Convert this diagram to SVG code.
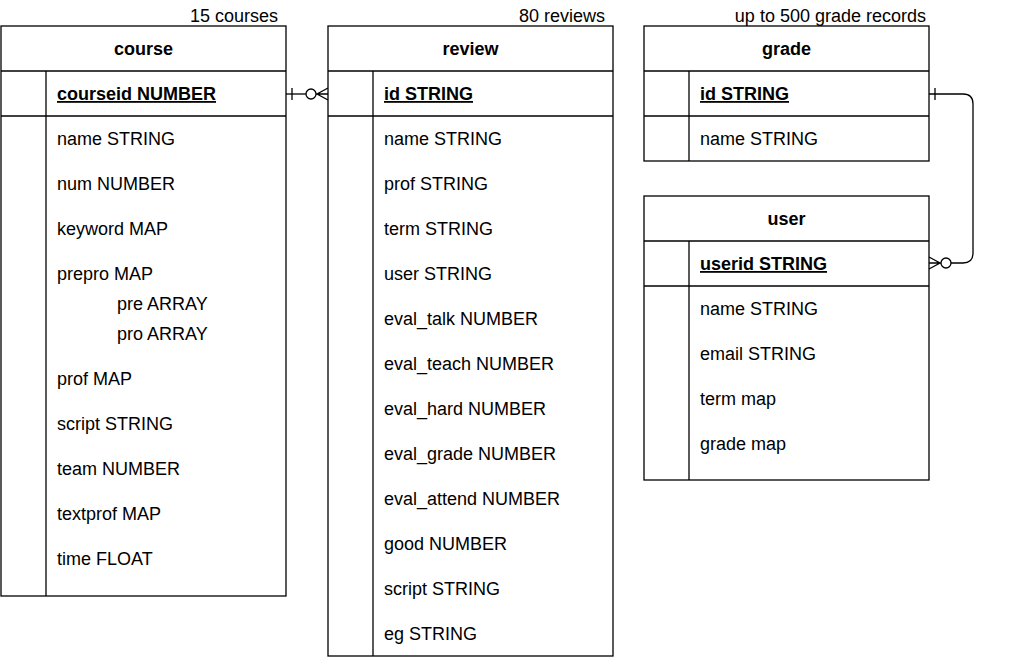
<svg xmlns="http://www.w3.org/2000/svg" width="1020" height="657" viewBox="0 0 1020 657">
<style>
.box{fill:#fff;stroke:#000;stroke-width:1.3}
.ln{stroke:#000;stroke-width:1.3;fill:none}
text{font-family:"Liberation Sans",Arial,sans-serif;font-size:18px;fill:#000}
.h{font-weight:bold;text-anchor:middle}
.k{font-weight:bold;text-decoration:underline}
.lbl{text-anchor:end}
</style>
<rect width="1020" height="657" fill="#fff"/>
<g id="course">
<rect class="box" x="1" y="26" width="285" height="570"/>
<line class="ln" x1="1" y1="71" x2="286" y2="71"/>
<line class="ln" x1="1" y1="116" x2="286" y2="116"/>
<line class="ln" x1="46" y1="71" x2="46" y2="596"/>
<text class="h" x="143.5" y="55">course</text>
<text class="k" x="57" y="100">courseid NUMBER</text>
<text x="57" y="145">name STRING</text>
<text x="57" y="190">num NUMBER</text>
<text x="57" y="235">keyword MAP</text>
<text x="57" y="280">prepro MAP</text>
<text x="117" y="310">pre ARRAY</text>
<text x="117" y="340">pro ARRAY</text>
<text x="57" y="385">prof MAP</text>
<text x="57" y="430">script STRING</text>
<text x="57" y="475">team NUMBER</text>
<text x="57" y="520">textprof MAP</text>
<text x="57" y="565">time FLOAT</text>
<text class="lbl" x="278" y="22">15 courses</text>
</g>
<g id="review">
<rect class="box" x="328" y="26" width="285" height="630"/>
<line class="ln" x1="328" y1="71" x2="613" y2="71"/>
<line class="ln" x1="328" y1="116" x2="613" y2="116"/>
<line class="ln" x1="373" y1="71" x2="373" y2="656"/>
<text class="h" x="470.5" y="55">review</text>
<text class="k" x="384" y="100">id STRING</text>
<text x="384" y="145">name STRING</text>
<text x="384" y="190">prof STRING</text>
<text x="384" y="235">term STRING</text>
<text x="384" y="280">user STRING</text>
<text x="384" y="325">eval_talk NUMBER</text>
<text x="384" y="370">eval_teach NUMBER</text>
<text x="384" y="415">eval_hard NUMBER</text>
<text x="384" y="460">eval_grade NUMBER</text>
<text x="384" y="505">eval_attend NUMBER</text>
<text x="384" y="550">good NUMBER</text>
<text x="384" y="595">script STRING</text>
<text x="384" y="640">eg STRING</text>
<text class="lbl" x="605" y="22">80 reviews</text>
</g>
<g id="grade">
<rect class="box" x="644" y="26" width="285" height="135"/>
<line class="ln" x1="644" y1="71" x2="929" y2="71"/>
<line class="ln" x1="644" y1="116" x2="929" y2="116"/>
<line class="ln" x1="689" y1="71" x2="689" y2="161"/>
<text class="h" x="786.5" y="55">grade</text>
<text class="k" x="700" y="100">id STRING</text>
<text x="700" y="145">name STRING</text>
<text class="lbl" x="926" y="22">up to 500 grade records</text>
</g>
<g id="user">
<rect class="box" x="644" y="196" width="285" height="284"/>
<line class="ln" x1="644" y1="241" x2="929" y2="241"/>
<line class="ln" x1="644" y1="286" x2="929" y2="286"/>
<line class="ln" x1="689" y1="241" x2="689" y2="480"/>
<text class="h" x="786.5" y="225">user</text>
<text class="k" x="700" y="270">userid STRING</text>
<text x="700" y="315">name STRING</text>
<text x="700" y="360">email STRING</text>
<text x="700" y="405">term map</text>
<text x="700" y="450">grade map</text>
</g>
<g id="connectors">
<line class="ln" x1="286" y1="94" x2="306" y2="94"/>
<line class="ln" x1="292" y1="88" x2="292" y2="100"/>
<circle class="ln" cx="311" cy="94" r="5" fill="#fff"/>
<path class="ln" d="M316 94 H328 M328 88 L317 94 L328 100"/>
<path class="ln" d="M929 94 H963 Q973 94 973 104 V253 Q973 263 963 263 H951"/>
<line class="ln" x1="935" y1="88" x2="935" y2="100"/>
<circle class="ln" cx="946" cy="263" r="5" fill="#fff"/>
<path class="ln" d="M941 263 H929 M929 257 L940 263 L929 269"/>
</g>
</svg>
